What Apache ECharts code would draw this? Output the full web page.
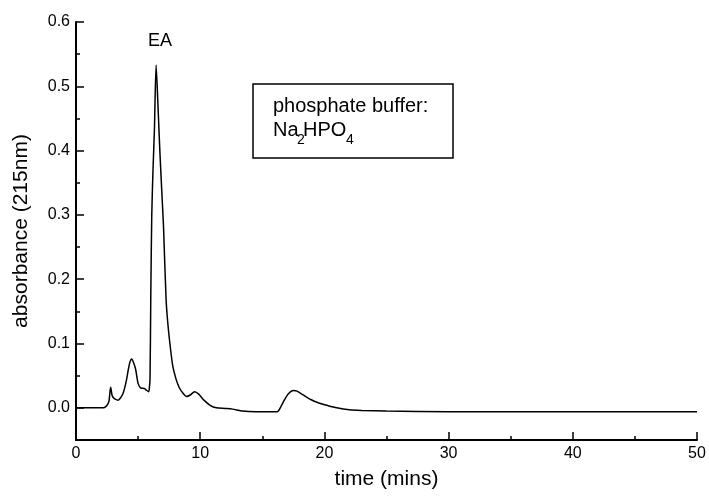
<!DOCTYPE html>
<html>
<head>
<meta charset="utf-8">
<script src="https://cdn.jsdelivr.net/npm/echarts@6/dist/echarts.min.js"></script>
<style>html,body{margin:0;padding:0;background:#fff}#c{width:709px;height:496px}</style>
</head>
<body>
<div id="c"></div>
<script>
// time (mins)
const timeMins = [0, 1, 2, 2.3, 2.5, 2.65, 2.79, 2.9, 3.0, 3.15, 3.4, 3.6, 3.8, 4.05, 4.3, 4.48, 4.6, 4.8, 5.0, 5.2, 5.5, 5.7, 5.85, 5.9, 5.96, 6.02, 6.1, 6.2, 6.31, 6.45, 6.6, 6.75, 6.95, 7.05, 7.25, 7.4, 7.62, 7.8, 8.05, 8.3, 8.6, 8.9, 9.2, 9.55, 9.9, 10.3, 10.8, 11.3, 12.0, 12.6, 13.4, 14.5, 15.5, 16.2, 16.5, 16.8, 17.1, 17.5, 17.8, 18.3, 18.9, 19.5, 20.2, 21.0, 22.0, 23.0, 25, 30, 35, 40, 45, 50];
// absorbance (215nm)
const absorbance = [0, 0, 0, 0.0005, 0.004, 0.01, 0.032, 0.02, 0.016, 0.0135, 0.012, 0.016, 0.023, 0.042, 0.068, 0.076, 0.072, 0.06, 0.038, 0.031, 0.030, 0.027, 0.025, 0.03, 0.045, 0.17, 0.30, 0.37, 0.43, 0.533, 0.47, 0.40, 0.32, 0.28, 0.17, 0.13, 0.09, 0.064, 0.045, 0.032, 0.023, 0.0176, 0.02, 0.025, 0.021, 0.012, 0.004, 0.0, -0.001, -0.002, -0.005, -0.006, -0.006, -0.006, 0.002, 0.013, 0.022, 0.027, 0.026, 0.020, 0.013, 0.008, 0.004, 0.0, -0.003, -0.004, -0.005, -0.006, -0.006, -0.006, -0.006, -0.006];
const yMajorTicks = [0, 0.1, 0.2, 0.3, 0.4, 0.5, 0.6];
const yMinorTicks = [0.05, 0.15, 0.25, 0.35, 0.45, 0.55];
const peakLabel = 'EA';
const boxLine1 = 'phosphate buffer:';

const FONT = '"Liberation Sans", Arial, sans-serif';
const chart = echarts.init(document.getElementById('c'), null, {renderer: 'canvas'});
chart.setOption({
  animation: false,
  backgroundColor: '#fff',
  grid: {left: 76, right: 12, top: 22, bottom: 56, containLabel: false},
  xAxis: {
    type: 'value', min: 0, max: 50, interval: 10,
    name: 'time (mins)', nameLocation: 'middle', nameGap: 29,
    nameTextStyle: {fontFamily: FONT, fontSize: 21, color: '#000'},
    axisLine: {show: true, onZero: false, lineStyle: {color: '#000', width: 2}},
    axisTick: {show: true, inside: true, length: 8, lineStyle: {color: '#000', width: 1.5}},
    minorTick: {show: true, splitNumber: 2, length: 4, lineStyle: {color: '#000', width: 1.5}},
    axisLabel: {fontFamily: FONT, fontSize: 16, color: '#000', margin: 6},
    splitLine: {show: false}, minorSplitLine: {show: false}
  },
  yAxis: [{
    type: 'value', min: -0.05, max: 0.6, interval: 0.05,
    name: 'absorbance (215nm)', nameLocation: 'middle', nameGap: 44,
    nameTextStyle: {fontFamily: FONT, fontSize: 21, color: '#000'},
    axisLine: {show: true, onZero: false, lineStyle: {color: '#000', width: 2}},
    axisTick: {show: true, inside: true, length: 8, customValues: yMajorTicks, lineStyle: {color: '#000', width: 1.5}},
    axisLabel: {fontFamily: FONT, fontSize: 16, color: '#000', margin: 6, customValues: yMajorTicks,
      formatter: v => v.toFixed(1)},
    splitLine: {show: false}
  }, {
    type: 'value', min: -0.05, max: 0.6, interval: 0.05, position: 'left',
    axisLine: {show: false, onZero: false},
    axisTick: {show: true, inside: true, length: 4, customValues: yMinorTicks, lineStyle: {color: '#000', width: 1.5}},
    axisLabel: {show: false},
    splitLine: {show: false}
  }],
  series: [{
    type: 'line',
    data: timeMins.map((t, i) => [t, absorbance[i]]),
    showSymbol: false, symbol: 'none',
    smooth: 0.25,
    lineStyle: {color: '#000', width: 1.5}
  }],
  graphic: [
    {type: 'text', left: 148, top: 32, style: {text: peakLabel, font: '18px ' + FONT, fill: '#000'}},
    {type: 'rect', shape: {x: 253, y: 84, width: 200, height: 74}, style: {fill: 'none', stroke: '#000', lineWidth: 1.5}},
    {type: 'text', x: 273, y: 106, style: {text: boxLine1, font: '20px ' + FONT, fill: '#000', verticalAlign: 'middle'}},
    {type: 'text', x: 273, y: 130, style: {text: 'Na', font: '20px ' + FONT, fill: '#000', verticalAlign: 'middle'}},
    {type: 'text', x: 297, y: 140, style: {text: '2', font: '14px ' + FONT, fill: '#000', verticalAlign: 'middle'}},
    {type: 'text', x: 303, y: 130, style: {text: 'HPO', font: '20px ' + FONT, fill: '#000', verticalAlign: 'middle'}},
    {type: 'text', x: 346, y: 140, style: {text: '4', font: '14px ' + FONT, fill: '#000', verticalAlign: 'middle'}}
  ]
});
</script>
</body>
</html>
